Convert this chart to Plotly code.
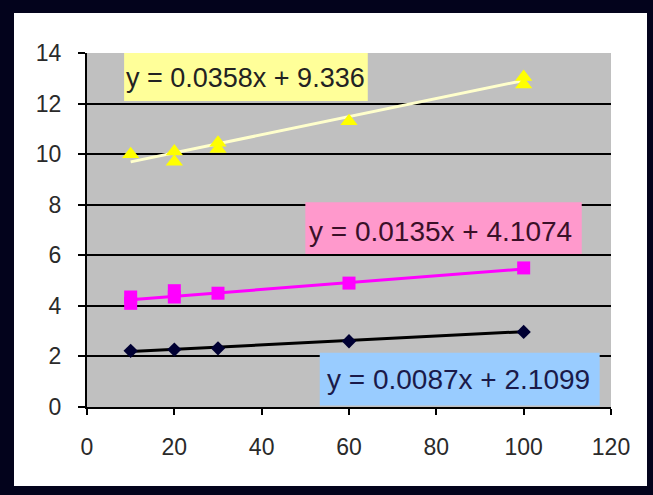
import plotly.graph_objects as go

# ---- data ----
black_x = [10, 20, 30, 60, 100]
black_y = [2.22, 2.27, 2.32, 2.6, 2.97]
pink_x = [10, 10, 20, 20, 30, 60, 100]
pink_y = [4.1, 4.35, 4.35, 4.6, 4.5, 4.9, 5.5]
yellow_x = [10, 20, 20, 30, 30, 60, 100, 100]
yellow_y = [10.0, 9.7, 10.1, 10.2, 10.45, 11.3, 12.75, 13.05]

slopes = [0.0087, 0.0135, 0.0358]
intercepts = ["2.1099", "4.1074", "9.336"]
slope_labels = ["0.0087", "0.0135", "0.0358"]

x_ticks = [0, 20, 40, 60, 80, 100, 120]
y_ticks = [0, 2, 4, 6, 8, 10, 12, 14]

FONT = "Liberation Sans, Arial, sans-serif"

fig = go.Figure()

series = [
    (black_x, black_y, "#000033", "#000000", "diamond", 11, 0),
    (pink_x, pink_y, "#FF00FF", "#FF00FF", "square", 13, 1),
    (yellow_x, yellow_y, "#FFFF00", "#FFFFCC", "triangle-up", 15, 2),
]

for xs, ys, mcol, lcol, sym, msize, i in series:
    x0, x1 = min(xs), max(xs)
    b = float(intercepts[i])
    fig.add_trace(go.Scatter(
        x=[x0, x1], y=[slopes[i] * x0 + b, slopes[i] * x1 + b],
        mode="lines", line=dict(color=lcol, width=3),
        showlegend=False, hoverinfo="skip"))
    fig.add_trace(go.Scatter(
        x=xs, y=ys, mode="markers",
        marker=dict(symbol=sym, size=msize, color=mcol, line=dict(width=0)),
        showlegend=False))

# label boxes: (x0, x1, y0, y1, fill, text x, text y, text colour, font size, series index)
boxes = [
    (8.5, 64.3, 12.1, 14.0, "#FFFF99", 36.2, 13.0, "#222222", 27, 2),
    (50.0, 113.3, 6.05, 8.1, "#FF99CC", 81.0, 6.95, "#3a1028", 28, 1),
    (53.3, 117.4, 0.06, 2.15, "#99CCFF", 85.0, 1.1, "#1a1a4a", 28, 0),
]
shapes = [
    # dark frame and white chart area
    dict(type="rect", xref="paper", yref="paper",
         x0=(14 - 87) / 524, x1=(647 - 87) / 524,
         y0=(407 - 486) / 354, y1=(407 - 13) / 354,
         fillcolor="white", line=dict(width=0), layer="below"),
    dict(type="rect", xref="paper", yref="paper", x0=0, x1=1, y0=0, y1=1,
         fillcolor="#C0C0C0", line=dict(width=0), layer="below"),
]
annotations = []
for bx0, bx1, by0, by1, fill, tx, ty, tcol, fsize, i in boxes:
    shapes.append(dict(type="rect", xref="x", yref="y", x0=bx0, x1=bx1,
                       y0=by0, y1=by1, fillcolor=fill, line=dict(width=0),
                       layer="above"))
    annotations.append(dict(
        x=tx, y=ty, xref="x", yref="y", showarrow=False,
        text=f"y = {slope_labels[i]}x + {intercepts[i]}",
        font=dict(family=FONT, size=fsize, color=tcol)))

fig.update_layout(
    width=653, height=495,
    margin=dict(l=87, r=42, t=53, b=88),
    paper_bgcolor="#03031c",
    plot_bgcolor="rgba(0,0,0,0)",
    shapes=shapes, annotations=annotations,
    font=dict(family=FONT, size=23, color="#2a2a2a"),
    xaxis=dict(range=[0, 120], tickvals=x_ticks, showgrid=False,
               zeroline=False, showline=True, linecolor="black", linewidth=2,
               ticks="outside", ticklen=6, tickwidth=2, tickcolor="black",
               ticklabelstandoff=12),
    yaxis=dict(range=[0, 14], tickvals=y_ticks, showgrid=True,
               gridcolor="black", gridwidth=2, zeroline=False,
               showline=True, linecolor="black", linewidth=2,
               ticks="outside", ticklen=7, tickwidth=2, tickcolor="black",
               ticklabelstandoff=12),
)

fig.write_html("out.html")
